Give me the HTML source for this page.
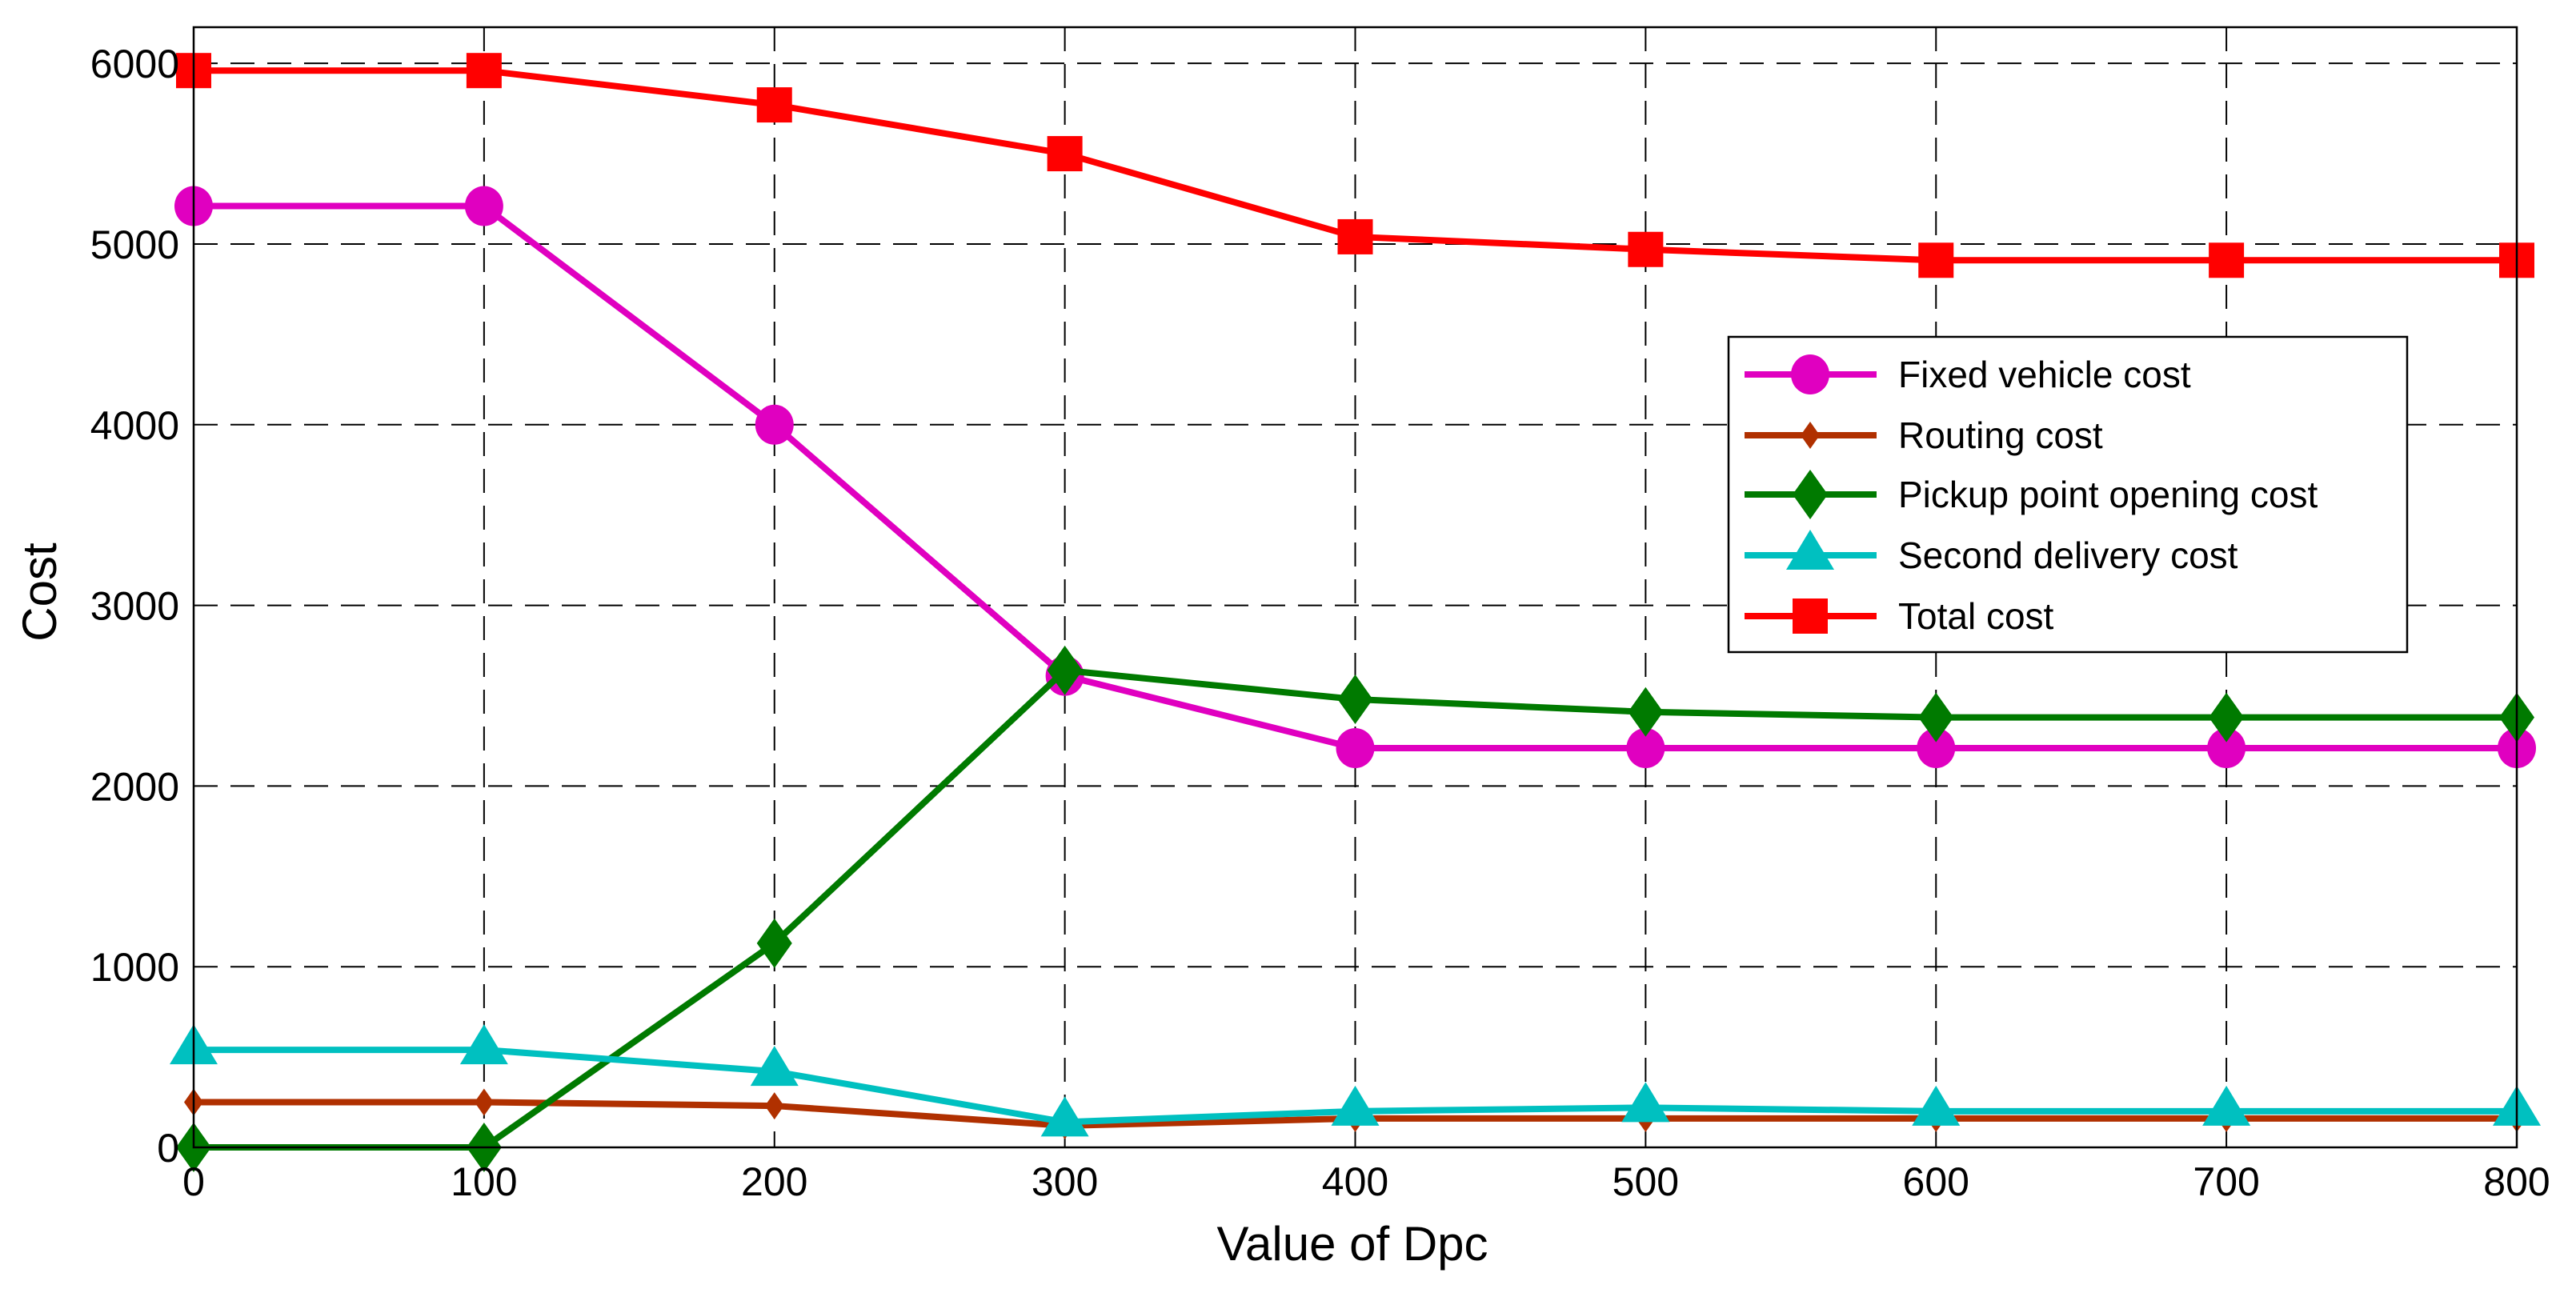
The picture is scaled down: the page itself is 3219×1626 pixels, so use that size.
<!DOCTYPE html>
<html><head><meta charset="utf-8"><style>
html,body{margin:0;padding:0;background:#fff;}
svg{display:block;font-family:"Liberation Sans",Arial,sans-serif;}
</style></head><body>
<svg id="chart" width="3219" height="1626" viewBox="0 0 3219 1626" xmlns="http://www.w3.org/2000/svg">
<rect x="0" y="0" width="3219" height="1626" fill="#fff"/>
<g id="grid"></g>
<g id="series"></g>
<rect x="242" y="34" width="2903" height="1400" fill="none" stroke="#000" stroke-width="2.5"/>
<g id="ticks" font-size="50" fill="#000"></g>
<text x="1690" y="1575" font-size="60" text-anchor="middle">Value of Dpc</text>
<text transform="translate(70,740) rotate(-90)" font-size="60" text-anchor="middle">Cost</text>
<g id="legend"></g>
</svg>
<script>
const categories = [0,100,200,300,400,500,600,700,800];
const xTicks = [0,100,200,300,400,500,600,700,800];
const yTicks = [0,1000,2000,3000,4000,5000,6000];
const fixedVehicle = [5210,5210,4000,2610,2210,2210,2210,2210,2210];
const routing = [250,250,230,120,160,160,160,160,160];
const pickupOpening = [0,0,1130,2640,2480,2410,2380,2380,2380];
const secondDelivery = [540,540,420,140,200,220,200,200,200];
const totalCost = [5960,5960,5770,5500,5040,4970,4910,4910,4910];
const seriesNames = ["Fixed vehicle cost","Routing cost","Pickup point opening cost","Second delivery cost","Total cost"];

const NS="http://www.w3.org/2000/svg";
const L=242,R=3145,T=34,B=1434;
const xs=v=>L+(v-0)/(800-0)*(R-L);
const ys=v=>B-(v-0)/(6200-0)*(B-T);
function mk(tag,attrs,parent){const e=document.createElementNS(NS,tag);for(const k in attrs)e.setAttribute(k,attrs[k]);parent.appendChild(e);return e;}
const grid=document.getElementById('grid'),ser=document.getElementById('series'),ticks=document.getElementById('ticks'),leg=document.getElementById('legend');

xTicks.forEach(v=>{
  const l=mk('line',{x1:xs(v),x2:xs(v),y1:T,y2:B,stroke:'#000','stroke-width':2,'stroke-dasharray':'30,16'},grid);
  
  
  const t=mk('text',{x:xs(v),y:B+60,'text-anchor':'middle'},ticks);
  t.textContent=v;
  
  
});
yTicks.forEach(v=>{
  const l=mk('line',{x1:L,x2:R,y1:ys(v),y2:ys(v),stroke:'#000','stroke-width':2,'stroke-dasharray':'30,16'},grid);
  
  
  const t=mk('text',{x:L-18,y:ys(v)+18,'text-anchor':'end'},ticks);
  t.textContent=v;
  
  
});

function marker(type,x,y,color,g){
  let e;
  if(type==='circle') e=mk('ellipse',{cx:x,cy:y,rx:24,ry:25,fill:color},g);
  else if(type==='square') e=mk('rect',{x:x-22,y:y-22,width:44,height:44,fill:color},g);
  else if(type==='diamond') e=mk('polygon',{points:`${x},${y-31} ${x+22},${y} ${x},${y+31} ${x-22},${y}`,fill:color},g);
  else if(type==='smalldiamond') e=mk('polygon',{points:`${x},${y-17} ${x+12},${y} ${x},${y+17} ${x-12},${y}`,fill:color},g);
  else e=mk('polygon',{points:`${x},${y-32} ${x+30},${y+18} ${x-30},${y+18}`,fill:color},g);
  return e;
}
const defs=[
  {name:'fixed-vehicle-cost',data:fixedVehicle,color:'#e000c0',m:'circle'},
  {name:'routing-cost',data:routing,color:'#b03000',m:'smalldiamond'},
  {name:'pickup-opening-cost',data:pickupOpening,color:'#007a00',m:'diamond'},
  {name:'second-delivery-cost',data:secondDelivery,color:'#00c0c0',m:'triangle'},
  {name:'total-cost',data:totalCost,color:'#ff0000',m:'square'}
];
defs.forEach(d=>{
  const g=mk('g',{},ser);
  
  
  const pts=categories.map((c,i)=>xs(c)+','+ys(d.data[i])).join(' ');
  const pl=mk('polyline',{points:pts,fill:'none',stroke:d.color,'stroke-width':8,'stroke-linejoin':'round'},g);
  
  
  categories.forEach((c,i)=>{
    const e=marker(d.m,xs(c),ys(d.data[i]),d.color,g);
    
    
  });
});

const box=mk('rect',{x:2160,y:421,width:848,height:394,fill:'#fff',stroke:'#000','stroke-width':2.5},leg);


const ly=[468,544,618,694,770];
defs.forEach((d,i)=>{
  const g=mk('g',{},leg);
  
  
  mk('line',{x1:2180,x2:2345,y1:ly[i],y2:ly[i],stroke:d.color,'stroke-width':8},g);
  marker(d.m,2262,ly[i],d.color,g);
  const t=mk('text',{x:2372,y:ly[i]+16,'font-size':46},g);
  t.textContent=seriesNames[i];
});
</script>
</body></html>
